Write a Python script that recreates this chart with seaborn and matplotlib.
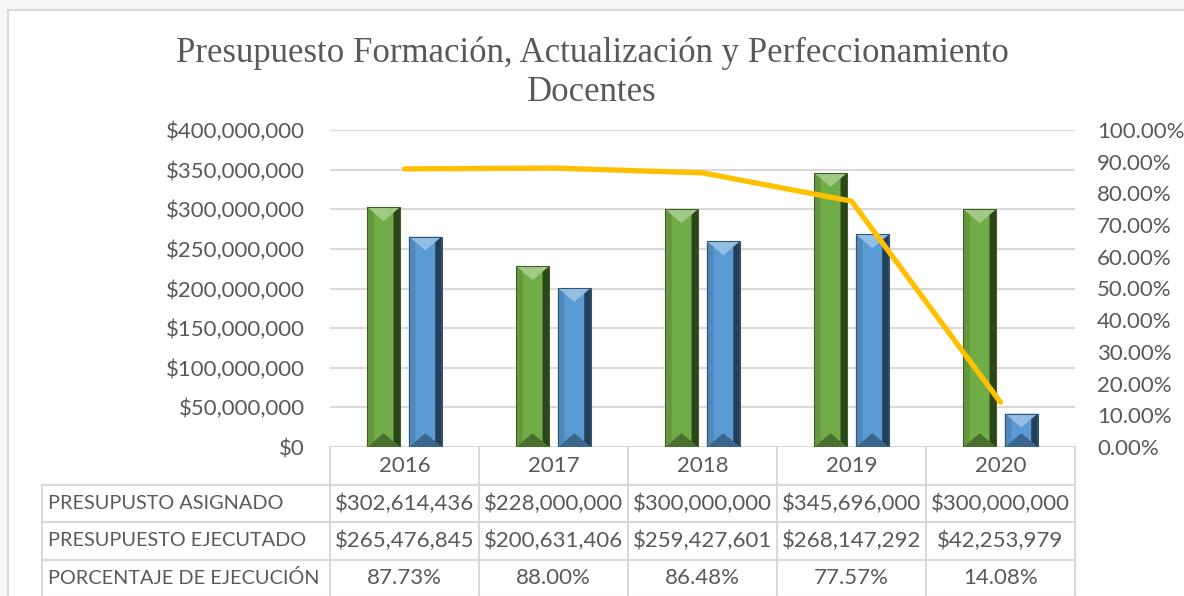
import numpy as np
import pandas as pd
import matplotlib
matplotlib.use('Agg')
import matplotlib.pyplot as plt
import matplotlib.transforms as mtransforms
from matplotlib.patches import Polygon, Rectangle
from matplotlib.lines import Line2D
from matplotlib.colors import to_rgb
import seaborn as sns

# ---- data ----
years = ['2016', '2017', '2018', '2019', '2020']
asignado = [302614436, 228000000, 300000000, 345696000, 300000000]
ejecutado = [265476845, 200631406, 259427601, 268147292, 42253979]
porcentaje = [87.73, 88.00, 86.48, 77.57, 14.08]
row_labels = ['PRESUPUSTO ASIGNADO', 'PRESUPUESTO EJECUTADO', 'PORCENTAJE DE EJECUCIÓN']
left_ticks = [0, 50000000, 100000000, 150000000, 200000000, 250000000, 300000000, 350000000, 400000000]
right_ticks = [0, 10, 20, 30, 40, 50, 60, 70, 80, 90, 100]
title_lines = ['Presupuesto Formación, Actualización y Perfeccionamiento', 'Docentes']

GREEN = '#70ad47'
BLUE = '#5b9bd5'
GOLD = '#ffc000'
TXT = '#595959'
GRID = '#d9d9d9'

sns.set_theme(style='white')
plt.rcParams['font.family'] = ['Lato', 'DejaVu Sans']

W, H = 1184, 596
fig = plt.figure(figsize=(W / 100, H / 100), dpi=100)
fig.patch.set_facecolor('#f8f5f7')


def fx(px):
    return px / W


def fy(py):
    return 1 - py / H


# chart area (white, with light border)
fig.add_artist(Rectangle((fx(8), fy(H + 5)), fx(1195) - fx(8), fy(10) - fy(H + 5),
                         transform=fig.transFigure, facecolor='white', edgecolor=GRID, lw=1.5, zorder=0))

ax = fig.add_axes([fx(330), fy(447), 745 / W, 317 / H])
ax.patch.set_alpha(0)

df = pd.DataFrame({
    'Año': years * 2,
    'Serie': ['Asignado'] * len(years) + ['Ejecutado'] * len(years),
    'Valor': asignado + ejecutado,
})
sns.barplot(data=df, x='Año', y='Valor', hue='Serie', palette=[GREEN, BLUE],
            width=0.56, gap=0.21, saturation=1, legend=False, ax=ax, zorder=3)

ax.set_xlim(-0.5, len(years) - 0.5)
ax.set_ylim(0, left_ticks[-1])
ax.set_yticks(left_ticks)
ax.set_yticklabels([f'${v:,.0f}' for v in left_ticks])
ax.set_xticks([])
ax.set_xlabel('')
ax.set_ylabel('')
ax.yaxis.grid(True, color=GRID, lw=1.5)
ax.set_axisbelow(True)
for s in ax.spines.values():
    s.set_visible(False)
ax.tick_params(axis='y', length=0, pad=18, labelsize=16, labelcolor=TXT)


def shade(c, f):
    r = np.array(to_rgb(c))
    if f >= 0:
        return tuple(r + (1 - r) * f)
    return tuple(r * (1 + f))


# bevel look on bars
ypp = left_ticks[-1] / 317.0   # data units per pixel (vertical)
xpp = len(years) / 745.0       # data units per pixel (horizontal)
for p in list(ax.patches):
    x0, w, h = p.get_x(), p.get_width(), p.get_height()
    if h <= 0:
        continue
    c = p.get_facecolor()
    wpx = w / xpp
    d = min(0.42 * wpx * ypp, h / 2)
    s = 0.2 * w
    ds = d * s / (w / 2)
    polys = [
        ([(x0, h), (x0 + w, h), (x0 + w / 2, h - d)], shade(c, 0.35)),
        ([(x0, 0), (x0 + w, 0), (x0 + w / 2, d)], shade(c, -0.35)),
        ([(x0, h), (x0 + s, h - ds), (x0 + s, ds), (x0, 0)], shade(c, -0.12)),
        ([(x0 + w, h), (x0 + w - s, h - ds), (x0 + w - s, ds), (x0 + w, 0)], shade(c, -0.6)),
    ]
    for pts, col in polys:
        ax.add_patch(Polygon(pts, closed=True, facecolor=col, edgecolor='none', zorder=4))
    ax.add_patch(Rectangle((x0, 0), w, h, facecolor='none', edgecolor=shade(c, -0.45), lw=0.8, zorder=5))

# percentage line
ax2 = ax.twinx()
sns.lineplot(x=np.arange(len(years)), y=np.array(porcentaje) / 100, ax=ax2,
             color=GOLD, lw=3.8, solid_capstyle='round')
ax2.set_ylim(0, 1)
ax2.set_yticks([v / 100 for v in right_ticks])
ax2.set_yticklabels([f'{v:.2f}%' for v in right_ticks])
ax2.set_ylabel('')
ax2.grid(False)
for s in ax2.spines.values():
    s.set_visible(False)
ax2.tick_params(axis='y', length=0, pad=16, labelsize=16, labelcolor=TXT)

# title
for line, yb in zip(title_lines, [62, 101]):
    fig.text(0.5, fy(yb), line, ha='center', va='baseline', fontsize=25,
             family=['Liberation Serif', 'DejaVu Serif'], color=TXT)

# data table
bt = mtransforms.blended_transform_factory(ax.transData, fig.transFigure)
edges = np.arange(len(years) + 1) - 0.5
row_y = [447, 485, 522, 560, 597]
for e in edges:
    fig.add_artist(Line2D([e, e], [fy(row_y[0]), fy(H + 5)], transform=bt, color=GRID, lw=1.5))
for yy in row_y[1:]:
    fig.add_artist(Line2D([fx(42), fx(1075)], [fy(yy), fy(yy)], transform=fig.transFigure, color=GRID, lw=1.5))
fig.add_artist(Line2D([fx(42), fx(42)], [fy(485), fy(H + 5)], transform=fig.transFigure, color=GRID, lw=1.5))

centers = [(row_y[i] + row_y[i + 1]) / 2 for i in range(4)]
for i, yr in enumerate(years):
    fig.text(i, fy(centers[0]), yr, transform=bt, ha='center', va='center', fontsize=16, color=TXT)
rows = [[f'${v:,.0f}' for v in asignado],
        [f'${v:,.0f}' for v in ejecutado],
        [f'{v:.2f}%' for v in porcentaje]]
for r, (lab, vals) in enumerate(zip(row_labels, rows)):
    yc = fy(centers[r + 1])
    fig.text(fx(48), yc, lab, ha='left', va='center', fontsize=14.3, color=TXT)
    for i, v in enumerate(vals):
        fig.text(i, yc, v, transform=bt, ha='center', va='center', fontsize=16, color=TXT)

fig.savefig('out.png', dpi=100, facecolor=fig.get_facecolor())
